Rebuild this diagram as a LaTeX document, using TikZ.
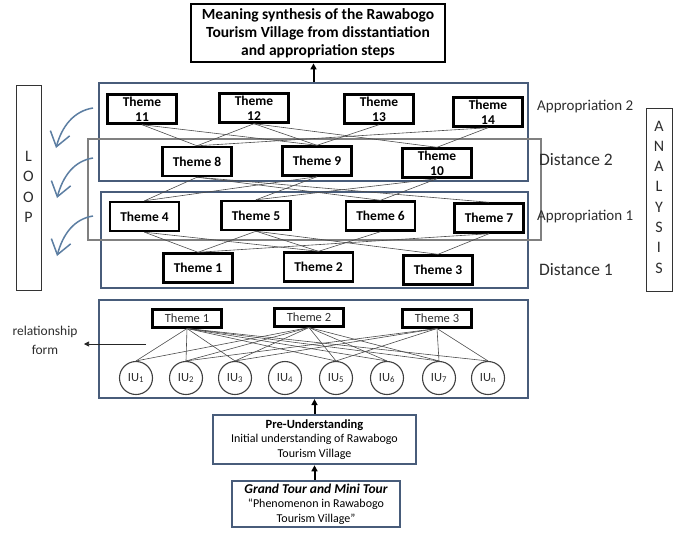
\documentclass[tikz,border=0pt]{standalone}
\usepackage{fontspec}
\setmainfont{Carlito}
\usetikzlibrary{arrows.meta}
\definecolor{slate}{RGB}{72,92,122}
\definecolor{loopblue}{RGB}{92,126,162}
\definecolor{txtgray}{RGB}{45,45,45}
\begin{document}
\begin{tikzpicture}[x=1pt,y=-1pt,
  themebox/.style={draw=black,line width=2.4pt,fill=white,inner sep=0pt,align=center,
    minimum width=69pt,minimum height=29pt,font=\bfseries\fontsize{13.5}{15}\selectfont},
  lowtheme/.style={draw=black,line width=3pt,fill=white,inner sep=0pt,
    minimum width=69pt,minimum height=18pt,text=txtgray,font=\fontsize{12.5}{12.5}\selectfont},
  bluebox/.style={draw=slate,line width=2.2pt,inner sep=0pt},
  graybox/.style={draw=gray,line width=2pt,inner sep=0pt},
  iu/.style={draw=black!75,line width=1.1pt,circle,minimum size=33pt,inner sep=0pt,
    text=txtgray,font=\fontsize{12.5}{12.5}\selectfont},
  edge/.style={draw=black!70,line width=0.6pt},
  stageLabel/.style={anchor=west,inner sep=0pt,text=txtgray},
  sidebox/.style={draw=black!80,line width=1pt,inner sep=0pt},
  looparrow/.style={draw=loopblue,line width=1.5pt,-{Straight Barb[length=14pt,width=20pt]}},
  uparrow/.style={draw=black,line width=2pt,-{Triangle[length=6pt,width=6pt]}},
  bigbox/.style={inner sep=0pt,align=center,font=\fontsize{12}{14.5}\selectfont}
]
\useasboundingbox (0,0) rectangle (677,533);

% framing boxes
\node[bluebox,minimum width=429pt,minimum height=98pt] (b1) at (313.5,132) {};
\node[bluebox,minimum width=427pt,minimum height=96pt] (b2) at (314.5,240) {};
\node[graybox,minimum width=453pt,minimum height=101pt] (g1) at (314.5,189.5) {};
\node[bluebox,minimum width=429pt,minimum height=98pt] (b3) at (313.5,349) {};

% top box
\node[draw=black,line width=2.8pt,minimum width=254pt,minimum height=58pt,bigbox,
  font=\bfseries\fontsize{15.5}{18}\selectfont] (top) at (318,33)
  {Meaning synthesis of the Rawabogo\\Tourism Village from disstantiation\\and appropriation steps};

% theme rows
\node[themebox] (t11) at (142,109) {Theme\\11};
\node[themebox] (t12) at (254,108) {Theme\\12};
\node[themebox] (t13) at (379,109) {Theme\\13};
\node[themebox] (t14) at (488,112) {Theme\\14};

\node[themebox] (t8) at (197,161.5) {Theme 8};
\node[themebox] (t9) at (317,161) {Theme 9};
\node[themebox] (t10) at (437,163) {Theme\\10};

\node[themebox] (t4) at (144.5,216.5) {Theme 4};
\node[themebox] (t5) at (256,215.5) {Theme 5};
\node[themebox] (t6) at (380.5,216) {Theme 6};
\node[themebox] (t7) at (489,218) {Theme 7};

\node[themebox] (t1) at (198,268) {Theme 1};
\node[themebox] (t2) at (318.5,267) {Theme 2};
\node[themebox] (t3) at (438,270) {Theme 3};

% theme edges
\foreach \a/\b in {t11/t8,t11/t9,t12/t8,t12/t9,t12/t10,t13/t9,t14/t8,t14/t10,
  t8/t4,t8/t6,t8/t7,t9/t4,t9/t5,t10/t5,t10/t6,
  t4/t1,t4/t2,t5/t1,t5/t2,t5/t3,t6/t2,t7/t1,t7/t3}
  \draw[edge] (\a.south) -- (\b.north);

% stage labels
\node[stageLabel,font=\fontsize{15}{15}\selectfont] (ap2) at (537,107) {Appropriation 2};
\node[stageLabel,font=\fontsize{17.5}{17.5}\selectfont] (d2) at (539,160) {Distance 2};
\node[stageLabel,font=\fontsize{15}{15}\selectfont] (ap1) at (537,217) {Appropriation 1};
\node[stageLabel,font=\fontsize{17.5}{17.5}\selectfont] (d1) at (539,270) {Distance 1};

% side boxes
\node[sidebox,minimum width=25pt,minimum height=205pt] (loopbox) at (28.5,187.5) {};
\node[align=center,inner sep=0pt,font=\fontsize{16}{20.5}\selectfont,text=txtgray] (looptxt)
  at (28.5,187) {L\\O\\O\\P};
\node[sidebox,minimum width=26pt,minimum height=183pt] (anbox) at (659,199.5) {};
\node[align=center,inner sep=0pt,font=\fontsize{16}{20.3}\selectfont,text=txtgray] (antxt)
  at (659,197) {A\\N\\A\\L\\Y\\S\\I\\S};

% loop arrows
\coordinate (ls1) at (93,108); \coordinate (le1) at (56,148);
\coordinate (ls2) at (93,158); \coordinate (le2) at (57,198);
\coordinate (ls3) at (93,216); \coordinate (le3) at (57,256);
\draw[looparrow] (ls1) .. controls (74,111) and (62,126) .. (le1);
\draw[looparrow] (ls2) .. controls (74,161) and (63,176) .. (le2);
\draw[looparrow] (ls3) .. controls (74,219) and (63,234) .. (le3);

% relationship box contents
\node[lowtheme] (u1) at (187,318) {Theme 1};
\node[lowtheme] (u2) at (309,317) {Theme 2};
\node[lowtheme] (u3) at (437,318) {Theme 3};

\node[iu] (i1) at (136,378) {IU\textsubscript{1}};
\node[iu] (i2) at (186,378) {IU\textsubscript{2}};
\node[iu] (i3) at (235,378) {IU\textsubscript{3}};
\node[iu] (i4) at (285,378) {IU\textsubscript{4}};
\node[iu] (i5) at (336,378) {IU\textsubscript{5}};
\node[iu] (i6) at (387,378) {IU\textsubscript{6}};
\node[iu] (i7) at (439,378) {IU\textsubscript{7}};
\node[iu] (in) at (488,378) {IU\textsubscript{n}};

\foreach \a/\b in {u1/i1,u1/i2,u1/i3,u1/i5,u1/i6,u1/i7,u1/in,
  u2/i1,u2/i2,u2/i3,u2/i5,u2/i6,u2/i7,
  u3/i2,u3/i3,u3/i5,u3/i7,u3/in}
  \draw[edge] (\a.south) -- (\b.north);

% relationship form label
\node[align=center,inner sep=0pt,font=\fontsize{13.5}{19}\selectfont,text=txtgray] (rel)
  at (45,340) {relationship\\form};
\coordinate (rs) at (146,344);
\coordinate (re) at (84,344);
\draw[draw=black!85,line width=0.7pt,-{Triangle[length=5pt,width=5pt]}] (rs) -- (re);

% bottom boxes
\node[draw=slate,line width=2.6pt,minimum width=203pt,minimum height=49pt,bigbox] (pre)
  at (314.5,439.5) {{\bfseries\fontsize{12.5}{14.5}\selectfont Pre-Understanding}\\Initial understanding of Rawabogo\\Tourism Village};
\node[draw=slate,line width=2.6pt,minimum width=168pt,minimum height=46pt,bigbox] (gt)
  at (316,504) {{\bfseries\itshape\fontsize{13.5}{14.5}\selectfont Grand Tour and Mini Tour}\\“Phenomenon in Rawabogo\\Tourism Village”};

% vertical arrows
\draw[uparrow] (gt.north -| pre.south) -- (pre.south);
\draw[uparrow] (pre.north) -- (pre.north |- b3.south);
\draw[uparrow] (b1.north) -- (b1.north |- top.south);
\end{tikzpicture}
\end{document}
